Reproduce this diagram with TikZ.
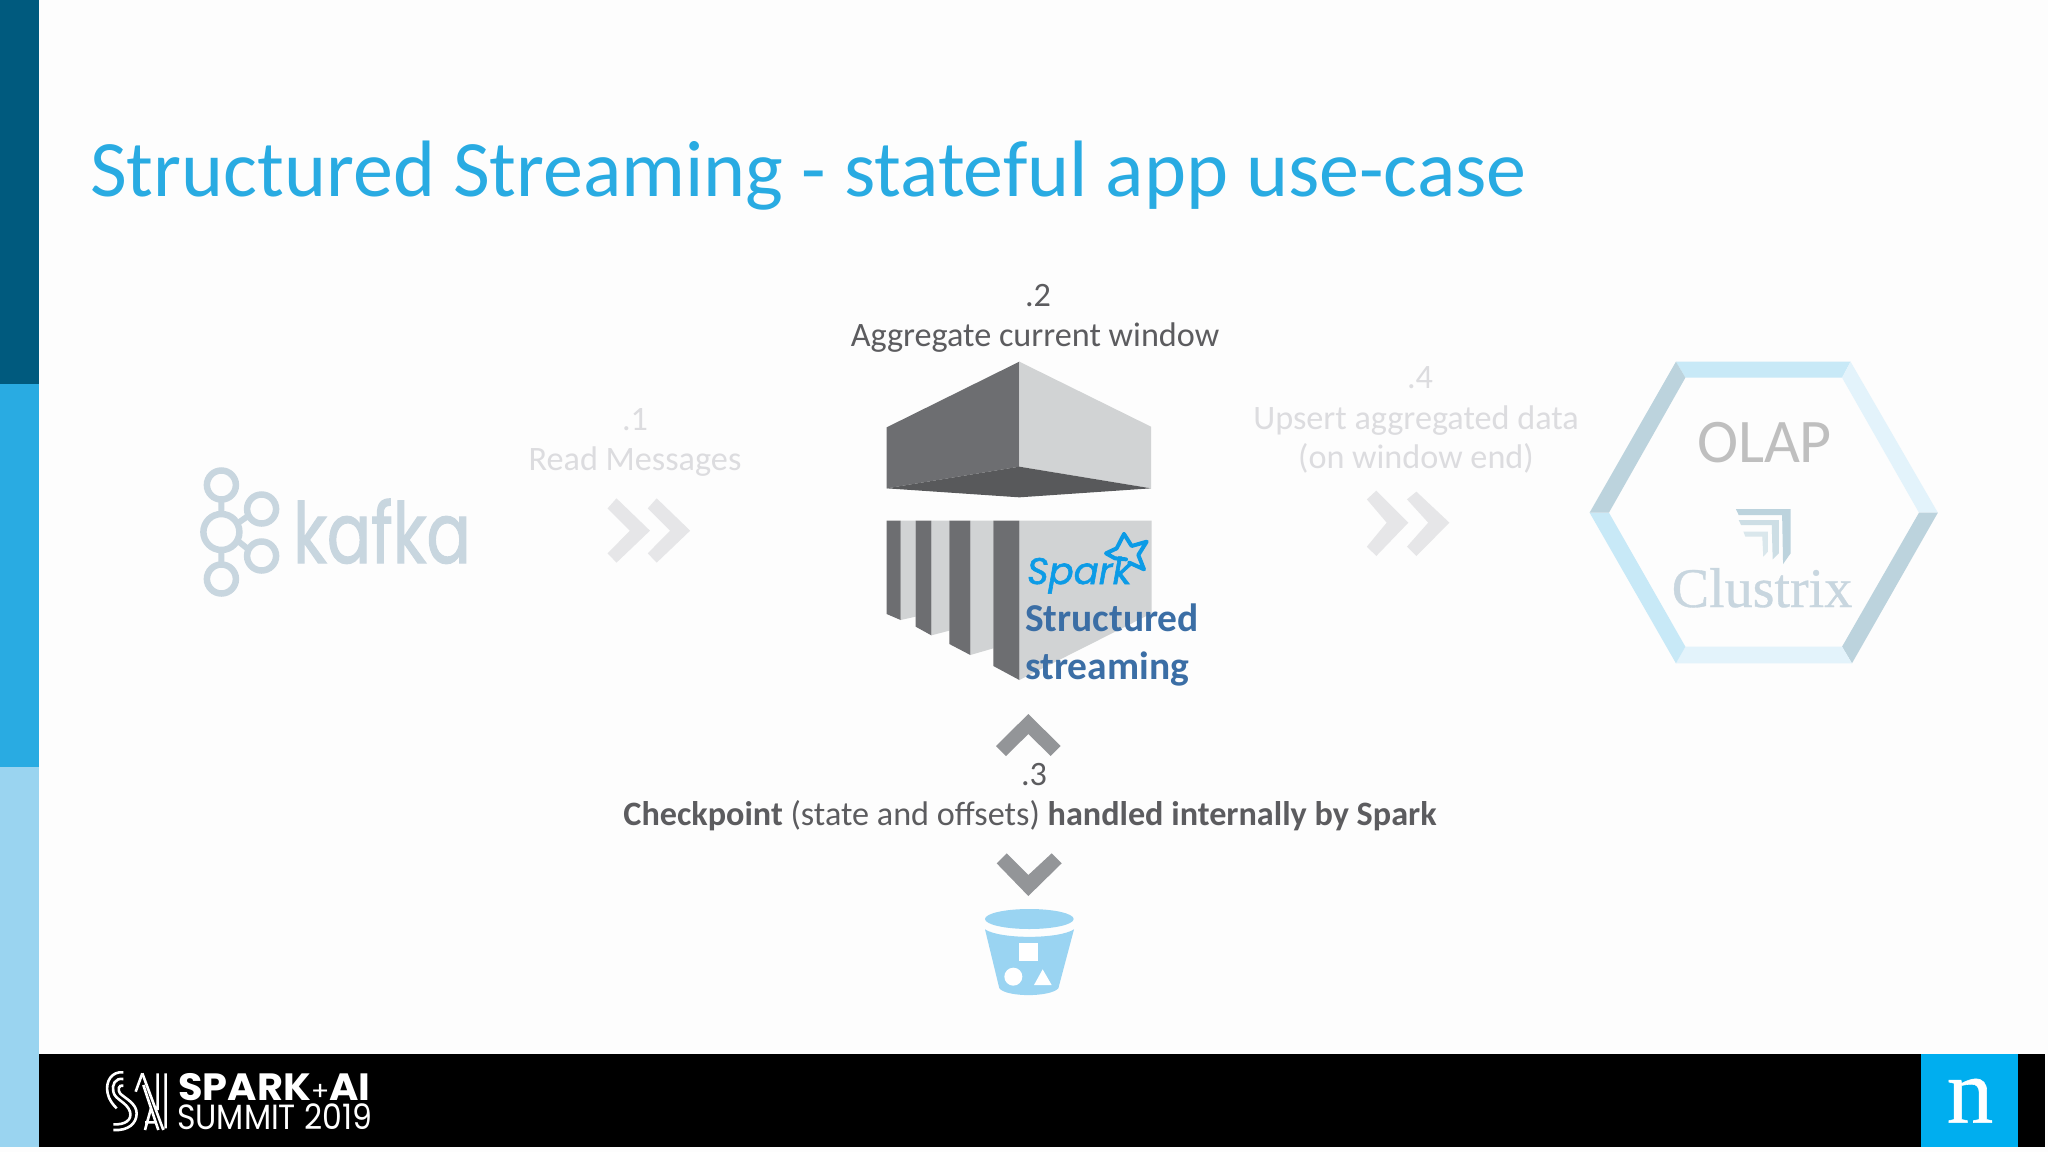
\documentclass[tikz,border=0pt]{standalone}
\usepackage{fontspec}
\setmainfont{Carlito}
\newfontfamily\popfont{Poppins}
\newfontfamily\popmed[FakeBold=1.6]{Poppins}
\newfontfamily\serfont{Liberation Serif}
\newfontfamily\sermed[FakeBold=0.6]{Liberation Serif}
\definecolor{txtd}{HTML}{5C5C5F}
\definecolor{txtf}{HTML}{DCDCDF}
\definecolor{ttl}{HTML}{29ABE2}
\definecolor{barA}{HTML}{005A7E}
\definecolor{barC}{HTML}{9AD4F0}
\definecolor{chevf}{HTML}{E6E6E8}
\definecolor{chevd}{HTML}{939598}
\definecolor{kaf}{HTML}{C8D6DF}
\definecolor{hexA}{HTML}{C8E9F7}
\definecolor{hexB}{HTML}{E3F3FB}
\definecolor{hexC}{HTML}{BCD3DD}
\definecolor{bkt}{HTML}{9AD4F2}
\definecolor{sparkb}{HTML}{0C9BE6}
\definecolor{stb}{HTML}{3B6EA5}
\definecolor{nbox}{HTML}{00AEEF}
\definecolor{blkD}{HTML}{6D6E71}
\definecolor{blkL}{HTML}{D1D3D4}
\definecolor{blkB}{HTML}{58595B}
\tikzset{
 lbl/.style={inner sep=0pt,anchor=base,font=\fontsize{34.2}{34.2}\selectfont},
 lbd/.style={lbl,text=txtd},
 lbf/.style={lbl,text=txtf},
 zm/.style={scale=1/3},
 ringsmall/.style={draw=kaf,line width=6.5},
 stbl/.style={inner sep=0pt,anchor=base west,text=stb,font=\bfseries\fontsize{39.5}{39.5}\selectfont},
 sastroke/.style={draw=white,line width=2.6,line cap=butt},
}
\begin{document}
\begin{tikzpicture}[x=1pt,y=-1pt,line join=miter]
\useasboundingbox (0,0) rectangle (2048,1152);
\fill[white!99.4!black] (0,0) rectangle (2048,1152);
% side bars
\fill[barA] (0,0) rectangle (39,384);
\fill[ttl] (0,384) rectangle (39,767);
\fill[barC] (0,767) rectangle (39,1147);
% footer
\fill[black] (39,1054) rectangle (2045,1147);
\fill[nbox] (1921,1054) rectangle (2018,1147);
\node[inner sep=0pt,anchor=base,text=white,font=\sermed\fontsize{93}{93}\selectfont] (nlogo) at (1970,1122.7) {n};
% title
\node[inner sep=0pt,anchor=base west,text=ttl,font=\fontsize{80}{80}\selectfont] (title) at (90,196) {Structured Streaming - stateful app use-case};
% kafka
\draw[ringsmall] (221.4,485) circle (14.5);
\draw[ringsmall] (221.4,532) circle (18);
\draw[ringsmall] (221.4,579) circle (14.5);
\draw[ringsmall] (261.6,509) circle (14.5);
\draw[ringsmall] (261.6,556) circle (14.5);
\draw[kaf,line width=6] (221.4,499)--(221.4,514) (221.4,550)--(221.4,565) (238,523)--(248,516) (238,541)--(248,549);
\node[inner sep=0pt,anchor=base west,text=kaf,font=\popmed\fontsize{84}{84}\selectfont,xscale=0.78] (kafka) at (293,563) {kafka};
% labels 1
\node[lbf] (n1) at (635,430.7) {.1};
\node[lbf] (read) at (635,470.5) {Read Messages};
\begin{scope}[shift={(150,340)},xscale=1/2.24,yscale=1/3]
 \fill[chevf] (1045,475)--(1120,572)--(1045,668)--(1025,640)--(1075,572)--(1025,505)--cycle;
 \fill[chevf] (1135,475)--(1210,572)--(1135,668)--(1115,640)--(1165,572)--(1115,505)--cycle;
\end{scope}
% centre labels
\node[lbd] (n2) at (1038,306) {.2};
\node[lbd] (agg) at (1035,346) {Aggregate current window};
% block
\begin{scope}[shift={(850,340)},zm]
 \fill[blkD] (110,262)--(508,65)--(508,380)--(110,445)--cycle;
 \fill[blkL] (508,65)--(903,260)--(903,445)--(508,380)--cycle;
 \fill[blkB] (110,445)--(508,380)--(903,445)--(508,472)--cycle;
 \fill[blkL] (152,542)--(197,542)--(197,830)--(152,840)--cycle;
 \fill[blkL] (244,542)--(298,542)--(298,872)--(244,886)--cycle;
 \fill[blkL] (361,542)--(430,542)--(430,925)--(361,945)--cycle;
 \fill[blkL] (508,542)--(905,542)--(905,820)--(508,1020)--cycle;
 \fill[blkD] (110,542)--(152,542)--(152,840)--(110,822)--cycle;
 \fill[blkD] (197,542)--(244,542)--(244,886)--(197,860)--cycle;
 \fill[blkD] (298,542)--(361,542)--(361,945)--(298,912)--cycle;
 \fill[blkD] (430,542)--(508,542)--(508,1020)--(430,978)--cycle;
\end{scope}
\begin{scope}[shift={(1000,520)},zm]
 \draw[sparkb,line width=4,line join=round,line cap=round] (372,42)--(395,78)--(440,65)--(415,105)--(432,148)--(388,128) (372,42)--(350,85)--(318,100)--(345,115)--(378,118);
\end{scope}
\node[inner sep=0pt,anchor=base west,text=sparkb,font=\popmed\itshape\fontsize{37}{37}\selectfont] (spark) at (1027,584) {Spark};
\node[stbl] (st1) at (1025,631) {Structured};
\node[stbl] (st2) at (1025,679) {streaming};
% right labels
\node[lbf] (n4) at (1420,388) {.4};
\node[lbf] (up) at (1416,429) {Upsert aggregated data};
\node[lbf] (on) at (1416,468) {(on window end)};
\begin{scope}[shift={(1230,340)},xscale=1/2.119,yscale=1/3]
 \fill[chevf] (310,452)--(378,548)--(310,648)--(290,620)--(332,548)--(290,478)--cycle;
 \fill[chevf] (395,455)--(465,548)--(395,648)--(375,620)--(420,548)--(375,478)--cycle;
 % hexagon
 \fill[hexA] (945,65)--(1315,65)--(1297,113)--(965,113)--cycle;
 \fill[hexB] (1315,65)--(1500,518)--(1460,518)--(1297,113)--cycle;
 \fill[hexC] (1500,518)--(1318,970)--(1297,920)--(1460,518)--cycle;
 \fill[hexB] (1318,970)--(945,970)--(965,920)--(1297,920)--cycle;
 \fill[hexA] (945,970)--(762,518)--(803,518)--(965,920)--cycle;
 \fill[hexC] (762,518)--(945,65)--(965,113)--(803,518)--cycle;
 % clustrix mark
 \fill[hexC] (1072,507)--(1188,507)--(1188,640)--(1172,672)--(1170,525)--(1078,525)--cycle;
 \fill[hexC!75!white] (1078,540)--(1163,540)--(1163,640)--(1150,658)--(1148,555)--(1083,555)--cycle;
 \fill[hexC!55!white] (1088,575)--(1140,575)--(1140,635)--(1130,650)--(1128,590)--(1092,590)--cycle;
\end{scope}
\node[inner sep=0pt,anchor=base,text=black!25!white,font=\fontsize{62}{62}\selectfont] (olap) at (1764.5,462.7) {OLAP};
\node[inner sep=0pt,anchor=base,text=kaf,font=\sermed\fontsize{56}{56}\selectfont] (clx) at (1762,607) {Clustrix};
% checkpoint
\begin{scope}[shift={(900,690)},zm]
 \fill[chevd] (385,72)--(482,168)--(452,198)--(385,132)--(318,198)--(288,168)--cycle;
 \fill[chevd] (320,490)--(385,555)--(455,490)--(485,520)--(385,618)--(290,520)--cycle;
 \fill[bkt] (388,687) ellipse (133 and 30);
 \fill[bkt] (255,718) .. controls (300,748) and (476,748) .. (522,718) -- (475,895) .. controls (450,922) and (320,922) .. (298,895) -- cycle;
 \fill[white] (358,760) rectangle (413,813);
 \fill[white] (340,860) circle (27);
 \fill[white] (402,885)--(455,885)--(428,838)--cycle;
\end{scope}
\node[lbd] (n3) at (1034,785) {.3};
\node[lbd] (chk) at (1030,825) {\textbf{Checkpoint} (state and offsets) \textbf{handled internally by Spark}};
% summit
\begin{scope}[shift={(95,1065)},zm]
 \draw[sastroke] (85,22) .. controls (50,18) and (30,50) .. (38,85) .. controls (42,105) and (55,120) .. (65,130);
 \draw[sastroke] (85,42) .. controls (60,38) and (50,60) .. (55,80) .. controls (60,105) and (95,110) .. (105,140) .. controls (112,165) and (90,180) .. (55,178);
 \draw[sastroke] (85,62) .. controls (70,58) and (68,75) .. (75,85) .. controls (90,100) and (125,115) .. (125,145) .. controls (125,175) and (100,198) .. (55,195);
 \draw[sastroke] (142,25)--(205,195) (145,60)--(190,195) (188,25)--(188,135) (212,25)--(212,190);
 \draw[sastroke] (142,25)--(122,80) (150,195)--(168,130) (150,172)--(182,172);
\end{scope}
\node[inner sep=0pt,anchor=base west,text=white,font=\popfont\bfseries\fontsize{38}{38}\selectfont,xscale=1.05] (sa1) at (178,1100) {SPARK{\fontsize{26}{26}\selectfont\mdseries +}AI};
\node[inner sep=0pt,anchor=base west,text=white,font=\popfont\fontsize{35}{35}\selectfont,xscale=0.9] (sa2) at (177,1129) {SUMMIT 2019};
\end{tikzpicture}
\end{document}
